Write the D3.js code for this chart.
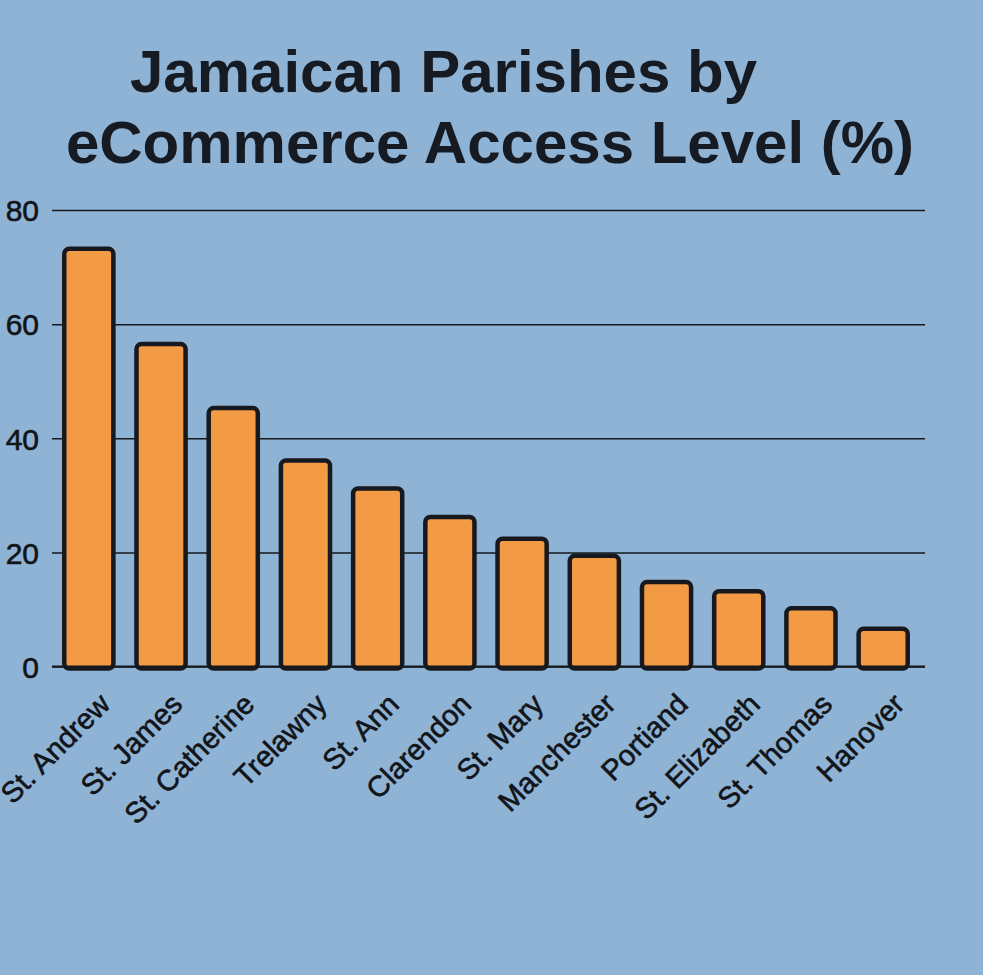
<!DOCTYPE html>
<html>
<head>
<meta charset="utf-8">
<script src="https://cdn.jsdelivr.net/npm/d3@7"></script>
<style>
  html, body { margin: 0; padding: 0; background: #8fb3d4; }
  svg { display: block; }
</style>
</head>
<body>
<svg id="chart" width="983" height="975"></svg>
<script>
const parishes = ["St. Andrew", "St. James", "St. Catherine", "Trelawny", "St. Ann", "Clarendon",
                  "St. Mary", "Manchester", "Portiand", "St. Elizabeth", "St. Thomas", "Hanover"];
const accessLevel = [73.2, 56.5, 45.3, 36.1, 31.2, 26.2, 22.4, 19.4, 14.8, 13.2, 10.2, 6.6];
const yTicks = [0, 20, 40, 60, 80];
const titleLines = ["Jamaican Parishes by", "eCommerce Access Level (%)"];

const svg = d3.select("#chart");
svg.append("rect").attr("width", 983).attr("height", 975).attr("fill", "#8fb3d4");

const plotLeft = 52, plotRight = 925, plotTop = 210, plotBottom = 666.5;

const x = d3.scaleBand().domain(parishes).range([52, 920]).paddingInner(0.32).paddingOuter(0.17);
const y = d3.scaleLinear().domain([0, 80]).range([plotBottom, plotTop]);

// title
const title = svg.append("g").attr("fill", "#161a22")
  .attr("font-family", "'Liberation Sans', Arial, sans-serif").attr("font-weight", "bold")
  .attr("font-size", 60);
title.append("text").attr("x", 443.5).attr("y", 92).attr("text-anchor", "middle").text(titleLines[0]);
title.append("text").attr("x", 490).attr("y", 163).attr("text-anchor", "middle").text(titleLines[1]);

// y axis with gridlines
const yAxis = d3.axisLeft(y).tickValues(yTicks).tickSize(-(plotRight - plotLeft)).tickPadding(13)
  .tickFormat(d3.format("d"));
const yg = svg.append("g").attr("transform", `translate(${plotLeft},0)`).call(yAxis);
yg.select(".domain").remove();
yg.selectAll(".tick line").attr("stroke", "#15181d").attr("stroke-width", 1.5);
yg.selectAll(".tick text").attr("fill", "#111418")
  .attr("stroke", "#111418").attr("stroke-width", 0.6)
  .attr("font-family", "'Liberation Sans', Arial, sans-serif").attr("font-size", 30)
  .attr("dy", "0.36em");

// bars
svg.append("g").selectAll("rect").data(parishes).join("rect")
  .attr("x", d => x(d))
  .attr("y", (d, i) => y(accessLevel[i]))
  .attr("width", x.bandwidth())
  .attr("height", (d, i) => plotBottom - y(accessLevel[i]) + 2)
  .attr("rx", 5).attr("ry", 5)
  .attr("fill", "#f39a45")
  .attr("stroke", "#17191e").attr("stroke-width", 4.5);

// baseline over bars
svg.append("line").attr("x1", plotLeft).attr("x2", plotRight).attr("y1", plotBottom).attr("y2", plotBottom)
  .attr("stroke", "#15181d").attr("stroke-width", 1.8);

// x labels
const xa = svg.append("g").attr("font-family", "'Liberation Sans', Arial, sans-serif")
  .attr("font-size", 29).attr("fill", "#111418")
  .attr("stroke", "#111418").attr("stroke-width", 0.6);
xa.selectAll("text").data(parishes).join("text")
  .attr("text-anchor", "end")
  .attr("transform", d => `translate(${x(d) + x.bandwidth() / 2 + 23},706) rotate(-45)`)
  .text(d => d);
</script>
</body>
</html>
